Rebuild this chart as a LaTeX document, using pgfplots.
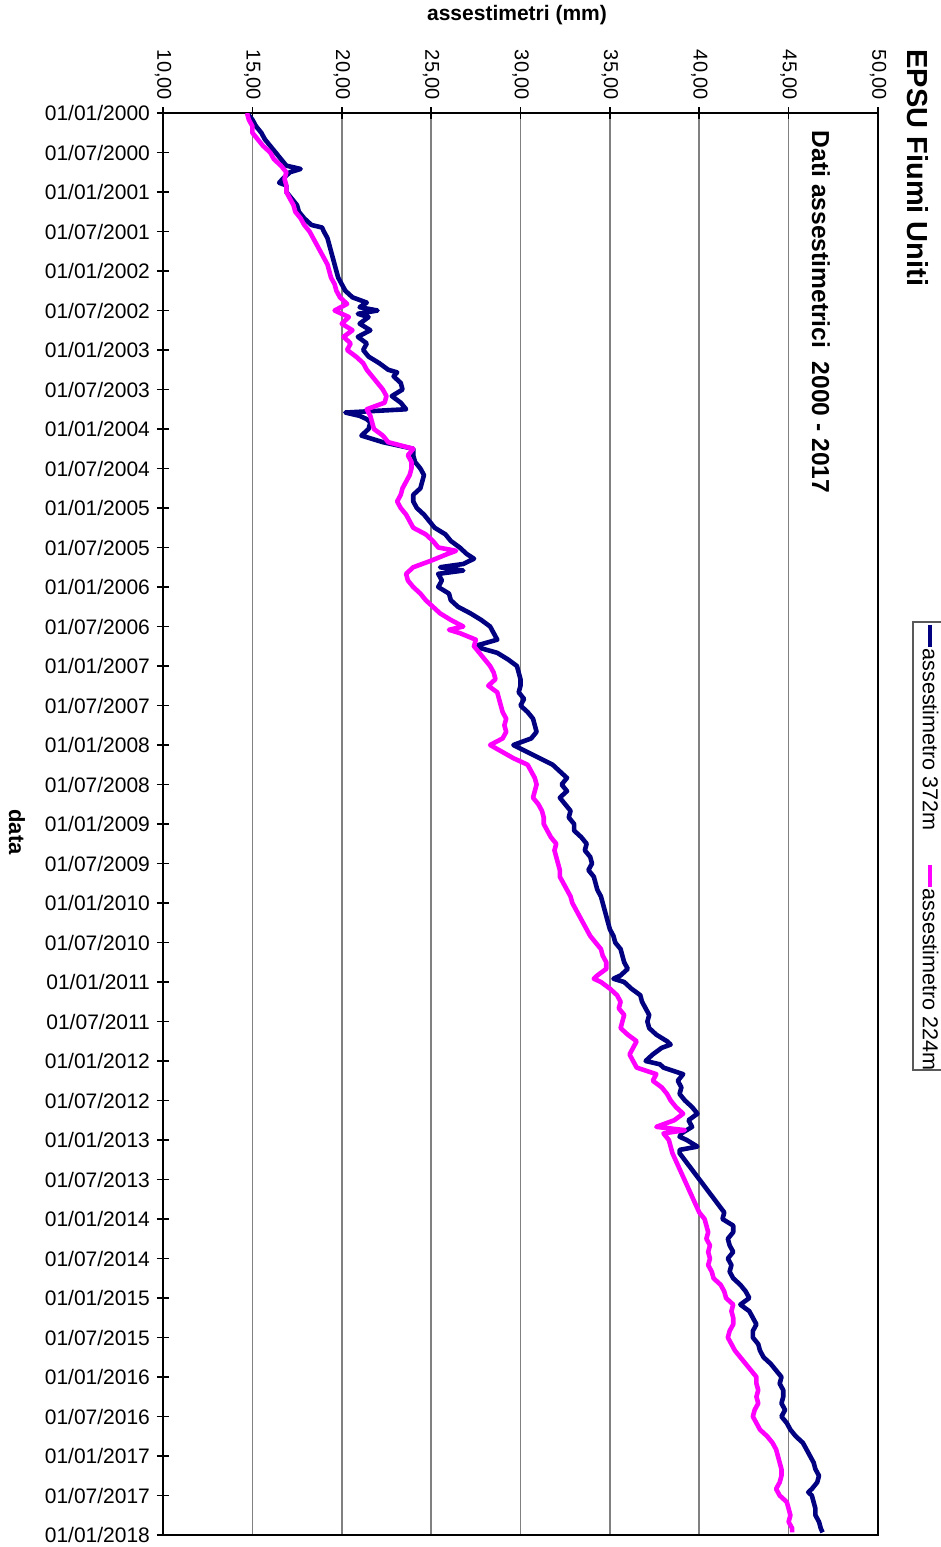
\documentclass[border=0pt]{standalone}
\usepackage{fontspec}
\setmainfont{Liberation Sans}
\usepackage{pgfplots}
\pgfplotsset{compat=1.18}
\usepackage{pgfplotstable}

\definecolor{navyline}{HTML}{000080}
\definecolor{magline}{HTML}{FF00FF}

% month (from 01/01/2000), settlement in mm
\pgfplotstableread{
m v
0 14.7
1 15.0
2 15.2
3 15.5
4 15.7
5 16.0
6 16.3
7 16.6
8 16.9
8.5 17.7
9 17.1
10 16.7
10.6 16.5
11 16.9
12 16.9
13 17.2
14 17.5
15 17.6
16 17.9
17 18.3
17.4 18.9
18 19.0
19 19.2
20 19.3
21 19.4
22 19.5
23 19.6
24 19.7
25 19.8
26 20.0
27 20.2
28 20.6
28.8 21.4
29.5 21.0
30 22.0
30.5 20.9
31 21.5
32 21.0
33 21.6
34 20.9
35 21.4
36 21.2
37 21.5
38 22.1
39 22.6
39.4 23.1
40 22.9
41 23.3
42 23.4
43 22.8
44 23.3
45 23.6
45.5 20.2
46 21.0
46.5 21.4
47 21.6
48 21.5
49 21.1
50 22.3
51 24.0
52 24.0
53 24.1
54 24.4
55 24.6
56 24.5
57 24.4
58 24.0
59 24.0
60 24.2
61 24.6
62 24.9
63 25.2
64 25.8
65 26.1
66 26.6
67 27.0
67.7 27.4
68.5 26.8
69 25.5
69.5 26.8
70 25.4
71 25.6
72 25.4
73 26.0
74 26.1
75 26.5
76 27.2
77 27.8
78 28.3
79 28.5
80 28.7
81 27.4
82 28.7
83 29.3
84 29.8
85 29.9
86 30.0
87 30.0
88 29.9
89 30.2
90 30.0
91 30.4
92 30.7
93 30.8
94 30.9
95 30.6
96 29.6
99 31.8
100 32.2
101 32.6
102 32.3
103 32.6
104 32.2
105 32.5
106 32.8
107 32.7
108 33.0
109 33.0
110 33.4
111 33.7
112 33.6
113 33.9
114 34.0
115 33.8
116 34.1
117 34.2
118 34.3
119 34.5
120 34.6
121 34.7
122 34.8
123 34.9
124 35.0
125 35.2
126 35.3
127 35.6
128 35.7
129 35.8
130 36.0
131 35.6
131.5 35.2
132 35.8
133 36.2
134 36.7
135 36.8
136 37.0
137 37.2
138 37.1
139 37.2
140 37.6
141 38.2
141.5 38.4
142 37.9
143 37.4
144 37.0
144.5 37.8
145 38.0
146 39.1
147 38.8
148 39.0
149 38.9
150 39.2
151 39.6
152 39.9
153 39.4
154 39.6
155 39.0
155.5 38.9
156 39.3
157 39.9
157.5 38.9
158 38.9
167 41.4
168 41.3
169 41.9
170 41.9
171 41.6
172 41.7
173 41.9
174 41.6
175 41.8
176 41.7
177 41.9
178 42.3
179 42.6
180 42.8
181 42.3
182 42.8
183 43.0
184 43.2
185 43.0
186 43.0
187 43.3
188 43.4
189 43.6
190 44.0
191 44.3
192 44.6
193 44.5
194 44.7
195 44.7
196 44.6
197 44.8
198 44.6
199 44.9
200 45.1
201 45.4
202 45.8
203 46.0
204 46.2
205 46.4
206 46.5
207 46.7
208 46.6
209 46.3
209.5 46.1
210 46.3
211 46.4
212 46.5
213 46.5
214 46.7
215 46.8
215.6 46.9
}\navy

\pgfplotstableread{
m v
0 14.7
1 14.8
2 15.0
3 15.0
4 15.3
5 15.6
6 16.0
7 16.2
8 16.6
9 16.9
10 16.8
11 16.9
12 16.9
13 17.1
14 17.3
15 17.4
16 17.7
17 17.9
18 18.2
19 18.4
20 18.6
21 18.8
22 19.0
23 19.2
24 19.3
25 19.4
26 19.6
27 19.7
28 19.9
29 20.3
30 19.6
31 20.4
32 20.0
33 20.6
34 20.1
35 20.5
36 20.3
37 20.8
38 21.2
39 21.4
40 21.7
41 22.0
42 22.3
43 22.5
44 22.4
45 21.4
46 21.6
47 21.7
48 21.8
49 22.3
50 22.6
51 24.0
52 23.7
53 23.9
54 23.9
55 23.8
56 23.6
57 23.4
58 23.3
59 23.1
60 23.3
61 23.6
62 23.8
63 24.0
64 24.7
65 25.1
66 25.4
66.5 26.4
67 25.9
68 25.0
69 24.0
70 23.6
71 23.7
72 24.0
73 24.4
74 24.7
75 25.1
76 25.5
77 26.1
78 26.8
78.5 26.0
79 26.6
80 27.5
81 27.4
82 27.7
83 28.0
84 28.3
85 28.5
86 28.6
87 28.2
88 28.7
89 28.8
90 28.9
91 29.0
92 29.2
93 29.1
94 29.2
95 29.0
96 28.3
98 29.6
99 30.4
100 30.6
101 30.8
102 30.9
103 30.8
104 30.7
105 31.0
106 31.2
107 31.3
108 31.3
109 31.5
110 31.7
111 32.0
112 31.9
113 32.0
114 32.1
115 32.2
116 32.2
117 32.4
118 32.6
119 32.8
120 32.9
121 33.1
122 33.3
123 33.5
124 33.7
125 33.9
126 34.2
127 34.5
128 34.6
129 34.8
130 34.8
131 34.3
131.5 34.1
132 34.5
133 35.0
134 35.4
135 35.6
136 35.5
137 35.8
138 35.7
139 35.6
140 36.0
141 36.5
142 36.3
143 36.1
144 36.3
145 36.5
146 37.6
147 37.4
148 37.9
149 38.2
150 38.4
151 38.7
152 39.1
153 38.6
154 37.6
154.5 39.2
155 38.0
156 38.3
157 38.4
158 38.5
167 40.0
168 40.3
169 40.4
170 40.5
171 40.4
172 40.6
173 40.5
174 40.6
175 40.5
176 40.7
177 40.8
178 41.2
179 41.4
180 41.5
181 41.9
182 41.8
183 41.9
184 41.9
185 41.7
186 41.6
187 41.8
188 42.0
189 42.3
190 42.6
191 42.9
192 43.2
193 43.2
194 43.3
195 43.2
196 43.3
197 43.1
198 43.0
199 43.2
200 43.4
201 43.8
202 44.1
203 44.3
204 44.4
205 44.5
206 44.6
207 44.6
208 44.5
209 44.3
210 44.5
211 44.9
212 45.0
213 45.1
214 45.0
215 45.2
215.6 45.2
}\magenta

\begin{document}
\begin{tikzpicture}
\begin{axis}[
scale only axis,
width=357.5pt, height=711pt,
xmin=10, xmax=50, xtick={10,15,...,50},
ymin=0, ymax=216, ytick={0,6,...,216},
y dir=reverse,
xtick pos=right, xticklabel pos=right,
ytick pos=left,
tick align=center, major tick length=6pt,
every tick/.style={black, line width=0.8pt},
axis line style={black, line width=1pt},
xmajorgrids,
grid style={gray, line width=0.8pt},
/pgf/number format/assume math mode=true,
xticklabel style={font=\fontsize{10}{12}\selectfont, rotate=-90, anchor=east, /pgf/number format/.cd, fixed, fixed zerofill, precision=2, use comma},
yticklabel style={font=\fontsize{10.5}{12}\selectfont},
yticklabels={01/01/2000,01/07/2000,01/01/2001,01/07/2001,01/01/2002,01/07/2002,01/01/2003,01/07/2003,01/01/2004,01/07/2004,01/01/2005,01/07/2005,01/01/2006,01/07/2006,01/01/2007,01/07/2007,01/01/2008,01/07/2008,01/01/2009,01/07/2009,01/01/2010,01/07/2010,01/01/2011,01/07/2011,01/01/2012,01/07/2012,01/01/2013,01/07/2013,01/01/2014,01/07/2014,01/01/2015,01/07/2015,01/01/2016,01/07/2016,01/01/2017,01/07/2017,01/01/2018},
]
\addplot[navyline, line width=2.3pt, line join=round] table[x=v, y=m] {\navy};
\addplot[magline, line width=2.3pt, line join=round] table[x=v, y=m] {\magenta};
\coordinate (TL) at (axis cs:10,0);
\coordinate (BR) at (axis cs:50,216);
\end{axis}
% titles and axis labels
\node[font=\bfseries\fontsize{14.5}{16}\selectfont, rotate=-90] at ([xshift=377.5pt, yshift=-27.5pt]TL) {EPSU Fiumi Uniti};
\node[font=\bfseries\fontsize{12.3}{14}\selectfont, rotate=-90] at ([xshift=329pt, yshift=-99.5pt]TL) {Dati assestimetrici\ \ 2000 - 2017};
\node[font=\bfseries\fontsize{10.5}{12}\selectfont] at ([xshift=177pt, yshift=49pt]TL) {assestimetri (mm)};
\node[font=\bfseries\fontsize{11}{12}\selectfont, rotate=-90] at ([xshift=-73pt, yshift=-359.5pt]TL) {data};
% legend
\draw[gray!70!black, line width=0.6pt, fill=white] ([xshift=420pt, yshift=-254.5pt]TL) -| ([xshift=375pt, yshift=-478.5pt]TL) -- ([xshift=420pt, yshift=-478.5pt]TL);
\draw[navyline, line width=1.6pt] ([xshift=383.5pt, yshift=-256pt]TL) -- ++(0,-11pt);
\node[rotate=-90, anchor=north west, inner sep=0pt, font=\fontsize{10.8}{12}\selectfont] at ([xshift=388pt, yshift=-267.5pt]TL) {assestimetro 372m};
\draw[magline, line width=1.6pt] ([xshift=383.5pt, yshift=-376pt]TL) -- ++(0,-11pt);
\node[rotate=-90, anchor=north west, inner sep=0pt, font=\fontsize{10.8}{12}\selectfont] at ([xshift=388pt, yshift=-387.5pt]TL) {assestimetro 224m};
\pgfresetboundingbox
\useasboundingbox ([xshift=-81.5pt, yshift=56.5pt]TL) rectangle ([xshift=31.5pt, yshift=-6pt]BR);
\end{tikzpicture}
\end{document}
